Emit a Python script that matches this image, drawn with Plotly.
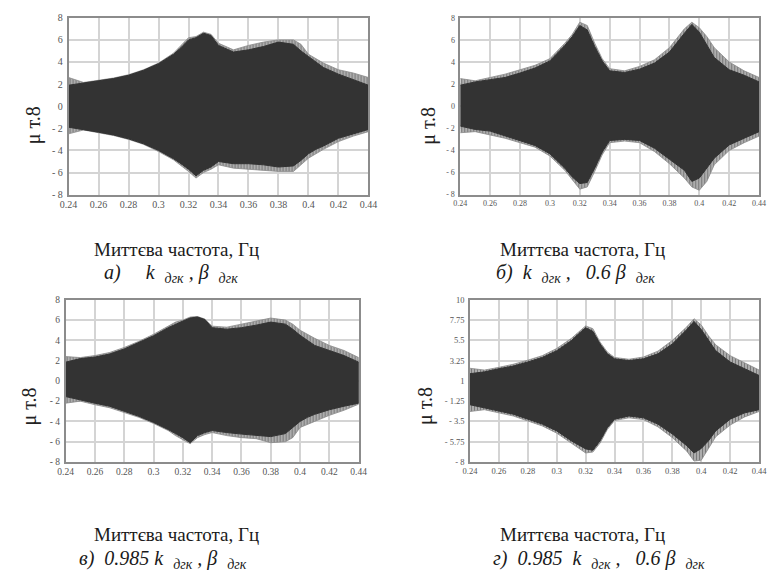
import plotly.graph_objects as go

# Shared frequency grid (Hz)
freq = [0.24, 0.25, 0.26, 0.27, 0.28, 0.29, 0.30, 0.31, 0.315, 0.32, 0.325, 0.33, 0.335,
        0.34, 0.35, 0.36, 0.37, 0.38, 0.39, 0.395, 0.40, 0.405, 0.41, 0.42, 0.43, 0.44]

# Panel а) envelopes
a_dark_up = [1.9, 2.1, 2.3, 2.5, 2.8, 3.25, 3.85, 4.7, 5.3, 6.0, 6.2, 6.6, 6.4, 5.5, 4.9, 5.1, 5.4, 5.8, 5.6, 5.0, 4.5, 4.0, 3.5, 2.9, 2.4, 1.9]
a_grey_up = [2.6, 2.15, 2.35, 2.55, 2.85, 3.3, 3.9, 4.8, 5.5, 6.2, 6.3, 6.7, 6.5, 5.7, 5.1, 5.5, 5.8, 6.0, 6.0, 5.6, 4.7, 4.3, 3.9, 3.3, 3.0, 2.6]
a_dark_lo = [-1.9, -2.1, -2.35, -2.6, -2.95, -3.4, -4.0, -4.75, -5.2, -5.7, -6.3, -5.8, -5.5, -5.0, -5.2, -5.2, -5.3, -5.5, -5.4, -4.9, -4.3, -3.9, -3.6, -2.9, -2.5, -2.1]
a_grey_lo = [-2.5, -2.15, -2.4, -2.65, -3.0, -3.45, -4.1, -4.85, -5.4, -5.9, -6.5, -6.0, -5.7, -5.3, -5.6, -5.7, -5.8, -5.9, -5.9, -5.3, -4.7, -4.3, -3.9, -3.2, -2.7, -2.3]

# Panel б) envelopes
b_dark_up = [1.9, 2.2, 2.4, 2.6, 3.0, 3.45, 4.1, 5.5, 6.3, 7.3, 6.9, 5.4, 4.1, 3.2, 3.05, 3.35, 3.9, 4.9, 6.6, 7.4, 6.7, 5.6, 4.4, 3.3, 2.8, 2.2]
b_grey_up = [2.5, 2.3, 2.6, 2.9, 3.3, 3.7, 4.3, 5.7, 6.5, 7.6, 7.3, 5.7, 4.3, 3.4, 3.2, 3.6, 4.2, 5.3, 7.0, 7.6, 7.1, 6.3, 5.3, 4.0, 3.2, 2.6]
b_dark_lo = [-1.8, -2.1, -2.25, -2.7, -3.1, -3.55, -4.3, -5.6, -6.4, -7.0, -6.9, -5.6, -4.15, -3.1, -3.0, -3.1, -3.8, -4.8, -5.8, -6.8, -6.5, -5.6, -4.7, -3.5, -2.9, -2.3]
b_grey_lo = [-2.4, -2.3, -2.6, -2.9, -3.3, -3.7, -4.5, -5.8, -6.7, -7.5, -7.3, -5.9, -4.4, -3.3, -3.15, -3.3, -4.1, -5.2, -6.5, -7.3, -7.6, -6.8, -5.3, -4.0, -3.3, -2.7]

# Panel в) envelopes
c_dark_up = [1.85, 2.2, 2.35, 2.65, 3.15, 3.8, 4.45, 5.25, 5.6, 5.9, 6.2, 6.3, 6.05, 5.25, 5.1, 5.25, 5.5, 5.8, 5.6, 5.1, 4.5, 4.0, 3.5, 3.0, 2.5, 1.85]
c_grey_up = [2.4, 2.3, 2.5, 2.8, 3.3, 3.9, 4.6, 5.4, 5.8, 6.0, 6.3, 6.35, 6.1, 5.4, 5.3, 5.6, 5.9, 6.2, 6.0, 5.6, 5.0, 4.6, 4.2, 3.5, 3.0, 2.3]
c_dark_lo = [-1.55, -1.85, -2.2, -2.5, -3.0, -3.5, -4.1, -4.8, -5.2, -5.6, -6.1, -5.4, -5.1, -4.9, -5.1, -5.25, -5.4, -5.5, -5.2, -4.6, -4.0, -3.6, -3.3, -2.85, -2.5, -2.2]
c_grey_lo = [-2.2, -2.0, -2.35, -2.65, -3.1, -3.6, -4.2, -4.9, -5.4, -5.8, -6.2, -5.6, -5.3, -5.1, -5.4, -5.6, -5.7, -6.1, -6.0, -5.6, -4.6, -4.3, -4.0, -3.4, -2.9, -2.3]

# Panel г) envelopes
d_dark_up = [1.8, 2.0, 2.35, 2.65, 3.1, 3.6, 4.35, 5.45, 6.2, 6.9, 6.5, 5.1, 4.0, 3.45, 3.25, 3.45, 4.0, 5.1, 6.7, 7.6, 6.7, 5.45, 4.35, 3.1, 2.35, 1.6]
d_grey_up = [2.4, 2.2, 2.5, 2.85, 3.3, 3.8, 4.6, 5.7, 6.4, 7.1, 6.8, 5.3, 4.2, 3.6, 3.4, 3.65, 4.3, 5.5, 7.0, 7.9, 7.2, 6.0, 5.0, 3.8, 3.0, 2.2]
d_dark_lo = [-1.65, -2.0, -2.35, -2.7, -3.25, -3.8, -4.55, -5.65, -6.1, -6.55, -6.7, -5.65, -4.2, -3.25, -2.9, -3.1, -3.8, -4.9, -6.2, -7.0, -6.5, -5.65, -4.55, -3.25, -2.55, -2.2]
d_grey_lo = [-2.4, -2.2, -2.55, -2.9, -3.45, -4.0, -4.8, -5.9, -6.4, -7.0, -6.9, -5.9, -4.4, -3.4, -3.1, -3.3, -4.1, -5.3, -6.8, -7.9, -7.8, -6.5, -5.2, -3.9, -3.0, -2.4]

x_ticks = [0.24, 0.26, 0.28, 0.30, 0.32, 0.34, 0.36, 0.38, 0.40, 0.42, 0.44]
x_tick_text = ["0.24", "0.26", "0.28", "0.3", "0.32", "0.34", "0.36", "0.38", "0.4", "0.42", "0.44"]
y_ticks_8 = [8, 6, 4, 2, 0, -2, -4, -6, -8]
y_tick_text_8 = ["8", "6", "4", "2", "0", "- 2", "- 4", "- 6", "- 8"]
y_ticks_10 = [10, 7.75, 5.5, 3.25, 1, -1.25, -3.5, -5.75, -8]
y_tick_text_10 = ["10", "7.75", "5.5", "3.25", "1", "- 1.25", "- 3.5", "- 5.75", "- 8"]

xlabel = "Миттєва частота, Гц"
ylabel = "μ т.8"
S = "\u00a0"
captions = [
    f"<i>а){S*5}k {S}<sub>дгк</sub> ,{S}β {S}<sub>дгк</sub></i>",
    f"<i>б){S*2}k {S}<sub>дгк</sub> ,{S*3}0.6{S}β {S}<sub>дгк</sub></i>",
    f"<i>в){S*2}0.985 k {S}<sub>дгк</sub> ,{S}β {S}<sub>дгк</sub></i>",
    f"<i>г){S*2}0.985{S*2}k {S}<sub>дгк</sub> ,{S*3}0.6 β {S}<sub>дгк</sub></i>",
]

W, H = 772, 578
# plot frames in pixels: left, right, top, bottom
frames = [(61, 368, 13, 193), (462, 768, 13, 193), (58, 358, 300, 465), (472, 768, 300, 465)]
tick_sizes = [10, 8, 9.5, 8.5]
panels = [
    (a_dark_up, a_dark_lo, a_grey_up, a_grey_lo, y_ticks_8, y_tick_text_8, [-8, 8]),
    (b_dark_up, b_dark_lo, b_grey_up, b_grey_lo, y_ticks_8, y_tick_text_8, [-8, 8]),
    (c_dark_up, c_dark_lo, c_grey_up, c_grey_lo, y_ticks_8, y_tick_text_8, [-8, 8]),
    (d_dark_up, d_dark_lo, d_grey_up, d_grey_lo, y_ticks_10, y_tick_text_10, [-8, 10]),
]
ylabel_pos = [(25, 122), (430, 123), (21, 409), (427, 408)]
xlabel_pos = [(172, 249), (587, 249), (172, 539), (587, 539)]
caption_pos = [(95, 273), (497, 273), (70, 564), (493, 564)]

fig = go.Figure()
serif = "Liberation Serif, Times New Roman, serif"

for i, (fr, pan) in enumerate(zip(frames, panels)):
    l, r, t, b = fr
    dup, dlo, gup, glo, yt, ytt, yr = pan
    n = "" if i == 0 else str(i + 1)
    xa, ya = "x" + n, "y" + n
    poly_x = freq + freq[::-1]
    fig.add_trace(go.Scatter(
        x=poly_x, y=gup + glo[::-1], xaxis=xa, yaxis=ya, mode="lines",
        fill="toself", fillcolor="#9a9a9a",
        fillpattern=dict(shape="|", fgcolor="#3a3a3a", bgcolor="#b8b8b8", size=3, solidity=0.45),
        line=dict(color="#8a8a8a", width=0.8), hoverinfo="skip", showlegend=False))
    fig.add_trace(go.Scatter(
        x=poly_x, y=dup + dlo[::-1], xaxis=xa, yaxis=ya, mode="lines",
        fill="toself", fillcolor="#333333",
        line=dict(color="#333333", width=1), hoverinfo="skip", showlegend=False))
    axis_common = dict(showgrid=True, gridcolor="#d4d4d4", gridwidth=1.5,
                       showline=True, linecolor="#8c8c8c", linewidth=1.5, mirror=True,
                       zeroline=False, ticks="",
                       tickfont=dict(family=serif, size=tick_sizes[i], color="#555555"))
    fig.update_layout(**{
        ("xaxis" + n): dict(domain=[l / W, r / W], anchor=ya, range=[0.24, 0.44],
                            tickvals=x_ticks, ticktext=x_tick_text, ticklabelstandoff=0, **axis_common),
        ("yaxis" + n): dict(domain=[1 - b / H, 1 - t / H], anchor=xa, range=yr,
                            tickvals=yt, ticktext=ytt, ticklabelstandoff=2, **axis_common),
    })
    fig.add_annotation(x=ylabel_pos[i][0] / W, y=1 - ylabel_pos[i][1] / H, xref="paper", yref="paper",
                       xanchor="center", yanchor="middle",
                       text=ylabel, textangle=-90, showarrow=False,
                       font=dict(family=serif, size=20, color="#222222"))
    fig.add_annotation(x=xlabel_pos[i][0] / W, y=1 - xlabel_pos[i][1] / H, xref="paper", yref="paper",
                       xanchor="center", yanchor="middle",
                       text=xlabel, showarrow=False,
                       font=dict(family=serif, size=19, color="#1a1a1a"))
    fig.add_annotation(x=caption_pos[i][0] / W, y=1 - caption_pos[i][1] / H, xref="paper", yref="paper",
                       xanchor="left", yanchor="middle",
                       text=captions[i], showarrow=False,
                       font=dict(family=serif, size=20, color="#1a1a1a"))

fig.update_layout(width=W, height=H, margin=dict(l=0, r=0, t=0, b=0),
                  paper_bgcolor="white", plot_bgcolor="white")
fig.write_html("out.html")
